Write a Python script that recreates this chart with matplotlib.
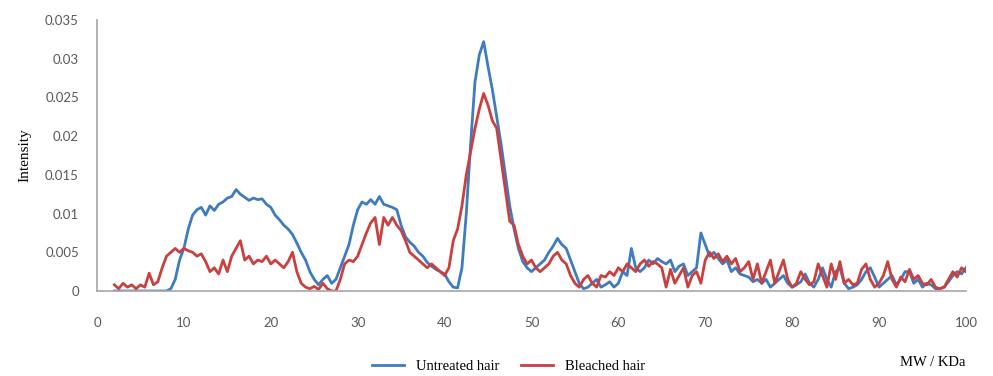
import matplotlib
matplotlib.use("Agg")
import matplotlib.pyplot as plt
import numpy as np

# molecular weight grid (kDa), 0.5 steps from 2 to 100
mw = np.arange(2.0, 100.01, 0.5)

untreated = [
    # 2 - 8.5
    0, 0, 0, 0, 0, 0, 0, 0, 0, 0, 0, 0, 0, 0.0003,
    # 9 - 15.5
    0.0015, 0.004, 0.0055, 0.008, 0.0098, 0.0105, 0.0108, 0.0098, 0.011, 0.0104, 0.0112, 0.0115, 0.012, 0.0122,
    # 16 - 22.5
    0.0131, 0.0125, 0.0121, 0.0117, 0.012, 0.0118, 0.0119, 0.0112, 0.0108, 0.0098, 0.0092, 0.0085, 0.008, 0.0073,
    # 23 - 29.5
    0.0062, 0.005, 0.004, 0.0025, 0.0015, 0.0008, 0.0015, 0.002, 0.001, 0.0015, 0.003, 0.0045, 0.006, 0.0085,
    # 30 - 36.5
    0.0105, 0.0115, 0.0112, 0.0118, 0.0112, 0.0122, 0.0112, 0.011, 0.0108, 0.0105, 0.0085, 0.007, 0.0063, 0.0058,
    # 37 - 43.5
    0.005, 0.0045, 0.0037, 0.0032, 0.0028, 0.0025, 0.0022, 0.0012, 0.0005, 0.0004, 0.003, 0.01, 0.019, 0.027,
    # 44 - 50.5
    0.0305, 0.0322, 0.029, 0.026, 0.0225, 0.019, 0.015, 0.011, 0.008, 0.0055, 0.0038, 0.003, 0.0025, 0.003,
    # 51 - 57.5
    0.0035, 0.004, 0.005, 0.0058, 0.0068, 0.006, 0.0055, 0.004, 0.0025, 0.001, 0.0003, 0.0005, 0.001, 0.0015,
    # 58 - 64.5
    0.0005, 0.0008, 0.0012, 0.0005, 0.001, 0.0025, 0.002, 0.0055, 0.003, 0.0025, 0.003, 0.004, 0.0035, 0.0042,
    # 65 - 71.5
    0.0038, 0.0035, 0.004, 0.0025, 0.0032, 0.0035, 0.002, 0.0025, 0.003, 0.0075, 0.006, 0.0045, 0.005, 0.0042,
    # 72 - 78.5
    0.0035, 0.004, 0.0025, 0.003, 0.0022, 0.002, 0.0018, 0.0012, 0.0015, 0.001, 0.0015, 0.0005, 0.001, 0.0015,
    # 79 - 85.5
    0.002, 0.001, 0.0005, 0.0008, 0.0012, 0.0022, 0.001, 0.0005, 0.0015, 0.003, 0.0015, 0.0005, 0.0025, 0.003,
    # 86 - 92.5
    0.001, 0.0003, 0.0005, 0.0008, 0.0015, 0.0025, 0.003, 0.0018, 0.0005, 0.001, 0.0015, 0.002, 0.0008, 0.0015,
    # 93 - 100
    0.0025, 0.0025, 0.001, 0.0015, 0.0005, 0.001, 0.0008, 0.0003, 0.0003, 0.0005, 0.0012, 0.002, 0.0025, 0.0022,
    0.003,
]

bleached = [
    # 2 - 8.5
    0.0008, 0.0003, 0.001, 0.0005, 0.0008, 0.0003, 0.0008, 0.0005, 0.0023, 0.0008, 0.0012, 0.003, 0.0045, 0.005,
    # 9 - 15.5
    0.0055, 0.005, 0.0055, 0.0052, 0.005, 0.0045, 0.0048, 0.0038, 0.0025, 0.003, 0.0022, 0.004, 0.0025, 0.0045,
    # 16 - 22.5
    0.0055, 0.0065, 0.004, 0.0045, 0.0035, 0.004, 0.0038, 0.0045, 0.0035, 0.004, 0.0035, 0.003, 0.0038, 0.005,
    # 23 - 29.5
    0.0025, 0.001, 0.0005, 0.0003, 0.0006, 0.0002, 0.001, 0.0003, 0.0, 0.0, 0.0015, 0.0035, 0.004, 0.0038,
    # 30 - 36.5
    0.0045, 0.006, 0.0075, 0.0088, 0.0095, 0.006, 0.0095, 0.0085, 0.0095, 0.0085, 0.0078, 0.0065, 0.005, 0.0045,
    # 37 - 43.5
    0.004, 0.0035, 0.003, 0.0035, 0.003, 0.0025, 0.002, 0.003, 0.0065, 0.008, 0.011, 0.015, 0.018, 0.021,
    # 44 - 50.5
    0.0235, 0.0255, 0.024, 0.022, 0.021, 0.017, 0.013, 0.009, 0.0085, 0.006, 0.0045, 0.0035, 0.004, 0.003,
    # 51 - 57.5
    0.0025, 0.003, 0.0035, 0.0045, 0.005, 0.004, 0.0035, 0.002, 0.001, 0.0005, 0.0015, 0.002, 0.001, 0.0005,
    # 58 - 64.5
    0.002, 0.0018, 0.0025, 0.002, 0.003, 0.0025, 0.0035, 0.003, 0.0025, 0.0035, 0.004, 0.0032, 0.0038, 0.0035,
    # 65 - 71.5
    0.003, 0.0005, 0.0028, 0.001, 0.002, 0.003, 0.0005, 0.002, 0.0025, 0.001, 0.004, 0.005, 0.0042, 0.0048,
    # 72 - 78.5
    0.0038, 0.0045, 0.0035, 0.0042, 0.0025, 0.003, 0.0038, 0.0015, 0.0035, 0.001, 0.0025, 0.004, 0.001, 0.0025,
    # 79 - 85.5
    0.004, 0.0015, 0.0005, 0.001, 0.0025, 0.0015, 0.0008, 0.0012, 0.0035, 0.002, 0.0005, 0.0035, 0.0015, 0.0038,
    # 86 - 92.5
    0.001, 0.0015, 0.0008, 0.001, 0.0028, 0.0035, 0.0015, 0.0005, 0.001, 0.002, 0.0038, 0.0015, 0.0005, 0.0018,
    # 93 - 100
    0.0012, 0.0028, 0.0015, 0.002, 0.001, 0.0008, 0.0015, 0.0005, 0.0003, 0.0005, 0.0015, 0.0025, 0.0018, 0.003,
    0.0025,
]

x_ticks = list(range(0, 101, 10))
y_ticks = [0, 0.005, 0.01, 0.015, 0.02, 0.025, 0.03, 0.035]
y_tick_labels = ["0", "0.005", "0.01", "0.015", "0.02", "0.025", "0.03", "0.035"]

serif = ["Liberation Serif", "DejaVu Serif"]
tick_color = "#595959"

fig = plt.figure(figsize=(9.93, 3.76), dpi=100)
ax = fig.add_axes([0.0977, 0.226, 0.875, 0.721])

ax.plot(mw, untreated, color="#3F7BC1", lw=2.0, label="Untreated hair")
ax.plot(mw, bleached, color="#C9403F", lw=2.0, label="Bleached hair")

ax.set_xlim(0, 100)
ax.set_ylim(0, 0.035)
ax.set_xticks(x_ticks)
ax.set_yticks(y_ticks)
ax.set_yticklabels(y_tick_labels)
ax.tick_params(length=0, labelsize=9.5, colors=tick_color)
ax.tick_params(axis="x", pad=19)
ax.tick_params(axis="y", pad=13)
for lab in ax.get_xticklabels() + ax.get_yticklabels():
    lab.set_fontfamily("Lato")

for side in ("top", "right"):
    ax.spines[side].set_visible(False)
for side in ("left", "bottom"):
    ax.spines[side].set_color("#A6A6A6")
    ax.spines[side].set_linewidth(1.2)

ax.set_ylabel("Intensity", fontfamily=serif, fontsize=11, labelpad=10)
fig.text(0.972, 0.037, "MW / KDa", fontfamily=serif, fontsize=10.5, ha="right", va="center")

fig.legend(loc="center", bbox_to_anchor=(0.512, 0.025), ncol=2, frameon=False,
           prop={"family": serif, "size": 10.5}, handlelength=2.2, columnspacing=1.5)

fig.savefig("out.png", dpi=100)
